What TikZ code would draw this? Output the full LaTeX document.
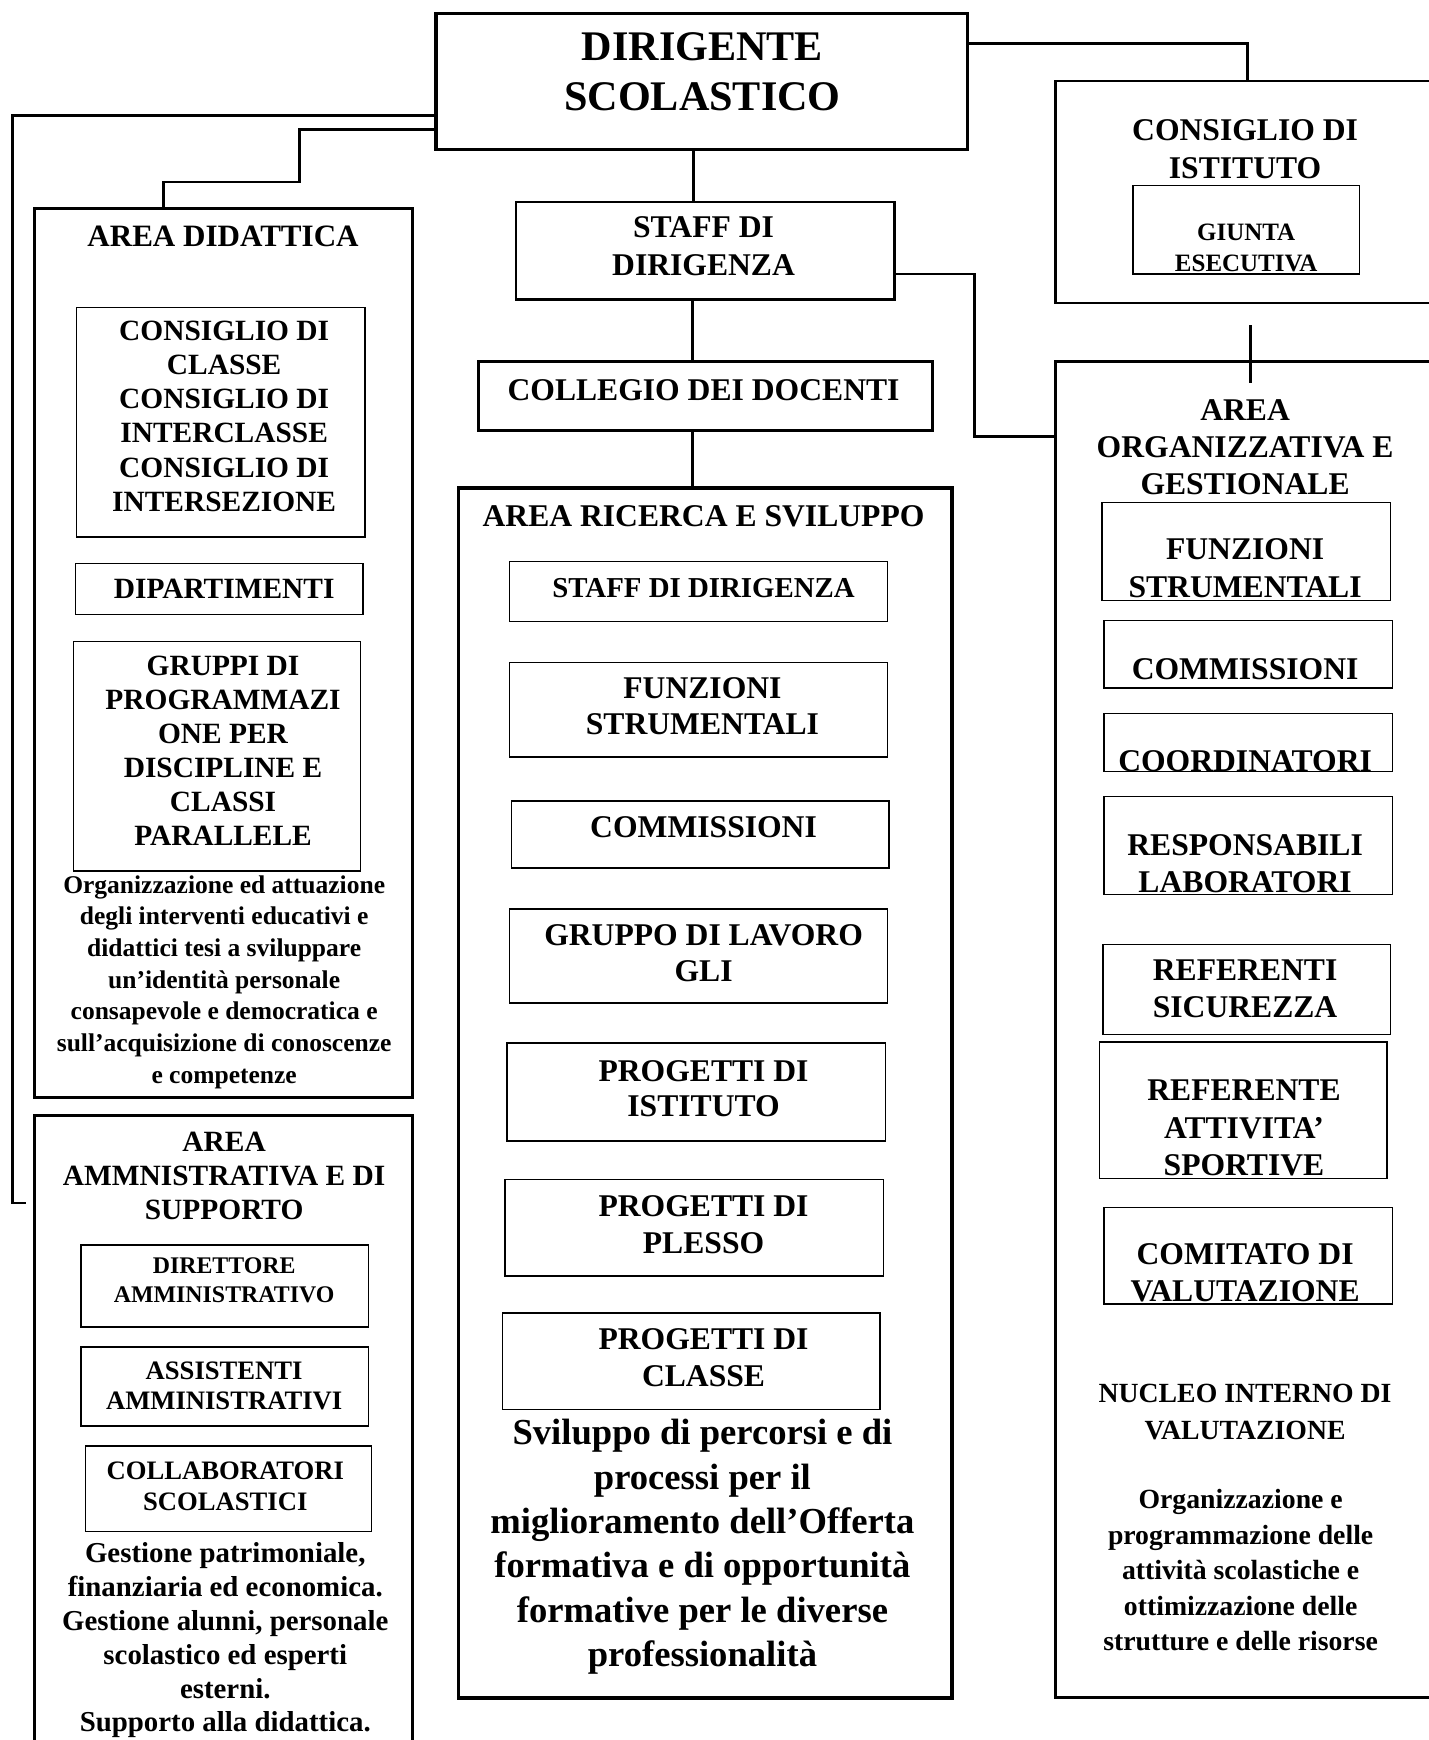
\documentclass[tikz,border=0pt]{standalone}
\usepackage{fontspec}
\setmainfont{Liberation Serif}
\usepackage{tikz}
\usetikzlibrary{positioning}
\tikzset{x=1pt,y=-1pt}
\tikzset{box/.style={draw,line width=2.6pt,inner sep=0pt,outer sep=0pt,anchor=north west}}
\tikzset{sub/.style={box,line width=1.3pt}}
\tikzset{lbl/.style={align=center,inner sep=0pt}}
\tikzset{conn/.style={line width=2.5pt}}
\newcommand{\fs}[2]{\fontsize{#1}{#2}\selectfont\bfseries}

\begin{document}
\begin{tikzpicture}
                \useasboundingbox (0,0) rectangle (1287,1568);
                % top row
                \node[box,line width=3pt,minimum width=479pt,minimum height=123pt] (ds) at (393,12) {};
                \node[lbl,font=\fs{38}{45}] (ds1) at (633,64.5) {DIRIGENTE\\SCOLASTICO};
                \node[box,minimum width=346pt,minimum height=200pt] (ci) at (951,73) {};
                \node[lbl,font=\fs{28.5}{35}] (ci1) at (1122,134.5) {CONSIGLIO DI\\ISTITUTO};
                \node[sub,minimum width=204pt,minimum height=80pt] (ge) at (1021,167) {};
                \node[lbl,font=\fs{22.5}{28}] (ge1) at (1123,223) {GIUNTA\\ESECUTIVA};
                % centre column
                \node[box,minimum width=341pt,minimum height=88pt] (sd) at (465,182) {};
                \node[lbl,font=\fs{28.5}{34}] (sd1) at (634,222) {STAFF DI\\DIRIGENZA};
                \node[box,minimum width=409pt,minimum height=62pt] (cd) at (431,326) {};
                \node[lbl,font=\fs{28.5}{33}] (cd1) at (634,352) {COLLEGIO DEI DOCENTI};
                \node[box,line width=3.2pt,minimum width=445pt,minimum height=1090pt] (ar) at (413,440) {};
                \node[lbl,font=\fs{28.5}{33}] (ar0) at (634,465) {AREA RICERCA E SVILUPPO};
                \node[sub,minimum width=341pt,minimum height=54pt] (s1) at (459,506) {};
                \node[lbl,font=\fs{26}{31}] (s1t) at (634,530) {STAFF DI DIRIGENZA};
                \node[sub,minimum width=341pt,minimum height=85pt] (s2) at (459,597) {};
                \node[lbl,font=\fs{28.5}{33}] (s2t) at (633,636.5) {FUNZIONI\\STRUMENTALI};
                \node[sub,minimum width=340pt,minimum height=60pt] (s3) at (461,722) {};
                \node[lbl,font=\fs{28.5}{33}] (s3t) at (634,745) {COMMISSIONI};
                \node[sub,minimum width=341pt,minimum height=85pt] (s4) at (459,819) {};
                \node[lbl,font=\fs{28.5}{32}] (s4t) at (634,859) {GRUPPO DI LAVORO\\GLI};
                \node[sub,minimum width=341pt,minimum height=88pt] (s5) at (457,940) {};
                \node[lbl,font=\fs{28.5}{32}] (s5t) at (634,981) {PROGETTI DI\\ISTITUTO};
                \node[sub,minimum width=341pt,minimum height=87pt] (s6) at (455,1063) {};
                \node[lbl,font=\fs{28.5}{33}] (s6t) at (634,1103.5) {PROGETTI DI\\PLESSO};
                \node[sub,minimum width=340pt,minimum height=87pt] (s7) at (453,1183) {};
                \node[lbl,font=\fs{28.5}{33}] (s7t) at (634,1223.5) {PROGETTI DI\\CLASSE};
                \node[lbl,font=\fs{33}{40}] (ar1) at (633,1394) {Sviluppo di percorsi e di\\processi per il\\miglioramento dell'Offerta\\formativa e di opportunità\\formative per le diverse\\professionalità};
                % left column
                \node[box,minimum width=341pt,minimum height=801pt] (ad) at (31,188) {};
                \node[lbl,font=\fs{28}{33}] (ad0) at (201,213) {AREA DIDATTICA};
                \node[sub,minimum width=260pt,minimum height=207pt] (d1) at (69,277) {};
                \node[lbl,font=\fs{26.5}{30.8}] (d1t) at (202,375) {CONSIGLIO DI\\CLASSE\\CONSIGLIO DI\\INTERCLASSE\\CONSIGLIO DI\\INTERSEZIONE};
                \node[sub,minimum width=259pt,minimum height=46pt] (d2) at (68,508) {};
                \node[lbl,font=\fs{26.5}{30.8}] (d2t) at (202,531) {DIPARTIMENTI};
                \node[sub,minimum width=259pt,minimum height=207pt] (d3) at (66,578) {};
                \node[lbl,font=\fs{26.5}{30.6}] (d3t) at (201,676.5) {GRUPPI DI\\PROGRAMMAZI\\ONE PER\\DISCIPLINE E\\CLASSI\\PARALLELE};
                \node[lbl,font=\fs{23}{28.5}] (ad1) at (202,885) {Organizzazione ed attuazione\\degli interventi educativi e\\didattici tesi a sviluppare\\un'identità personale\\consapevole e democratica e\\sull'acquisizione di conoscenze\\e competenze};
                \node[box,minimum width=341pt,minimum height=620pt] (aa) at (31,1005) {};
                \node[lbl,font=\fs{26.5}{30.5}] (aa0) at (202,1059.5) {AREA\\AMMNISTRATIVA E DI\\SUPPORTO};
                \node[sub,minimum width=259pt,minimum height=74pt] (a1) at (73,1122) {};
                \node[lbl,font=\fs{21.5}{26}] (a1t) at (202,1154) {DIRETTORE\\AMMINISTRATIVO};
                \node[sub,minimum width=259pt,minimum height=71pt] (a2) at (73,1214) {};
                \node[lbl,font=\fs{24}{27}] (a2t) at (202,1248.5) {ASSISTENTI\\AMMINISTRATIVI};
                \node[sub,minimum width=258pt,minimum height=77pt] (a3) at (77,1303) {};
                \node[lbl,font=\fs{24}{28}] (a3t) at (203,1339) {COLLABORATORI\\SCOLASTICI};
                \node[lbl,font=\fs{26}{30.6}] (aa1) at (203,1478) {Gestione patrimoniale,\\finanziaria ed economica.\\Gestione alunni, personale\\scolastico ed esperti\\esterni.\\Supporto alla didattica.};
                % right column
                \node[box,minimum width=346pt,minimum height=1204pt] (ao) at (951,326) {};
                \node[lbl,font=\fs{28.5}{33}] (ao0) at (1122,403) {AREA\\ORGANIZZATIVA E\\GESTIONALE};
                \node[sub,minimum width=260pt,minimum height=88pt] (r1) at (993,453) {};
                \node[lbl,font=\fs{28.5}{34}] (r1t) at (1122,512) {FUNZIONI\\STRUMENTALI};
                \node[sub,minimum width=260pt,minimum height=61pt] (r2) at (995,559) {};
                \node[lbl,font=\fs{28.5}{33}] (r2t) at (1122,603) {COMMISSIONI};
                \node[sub,minimum width=260pt,minimum height=52pt] (r3) at (995,643) {};
                \node[lbl,font=\fs{28.5}{33}] (r3t) at (1122,686) {COORDINATORI};
                \node[sub,minimum width=260pt,minimum height=88pt] (r4) at (995,718) {};
                \node[lbl,font=\fs{28.5}{33}] (r4t) at (1122,778.5) {RESPONSABILI\\LABORATORI};
                \node[sub,minimum width=259pt,minimum height=81pt] (r5) at (994,851) {};
                \node[lbl,font=\fs{28.5}{34}] (r5t) at (1122,891) {REFERENTI\\SICUREZZA};
                \node[sub,minimum width=259pt,minimum height=123pt] (r6) at (991,939) {};
                \node[lbl,font=\fs{28.5}{33.5}] (r6t) at (1121,1016.5) {REFERENTE\\ATTIVITA'\\SPORTIVE};
                \node[sub,minimum width=260pt,minimum height=87pt] (r7) at (995,1088) {};
                \node[lbl,font=\fs{28.5}{34}] (r7t) at (1122,1147) {COMITATO DI\\VALUTAZIONE};
                \node[lbl,font=\fs{25}{33}] (ao1) at (1122,1272.5) {NUCLEO INTERNO DI\\VALUTAZIONE};
                \node[lbl,font=\fs{25}{32}] (ao2) at (1118,1415) {Organizzazione e\\programmazione delle\\attività scolastiche e\\ottimizzazione delle\\strutture e delle risorse};
                % connectors
                \draw[conn] ([yshift=-27pt]ds.north east) -| (ci.north);
                \draw[conn] ([xshift=-7.5pt]ds.south) -- ([xshift=-10.5pt]sd.north);
                \draw[conn] ([xshift=-11.5pt]sd.south) -- ([xshift=-11.5pt]cd.north);
                \draw[conn] ([xshift=-11.5pt]cd.south) -- ([xshift=-11.5pt]ar.north);
                \draw[conn] ([yshift=-21pt]sd.east) -| ([xshift=-73pt,yshift=-67pt]ao.north west) -- ([yshift=-67pt]ao.north west);
                \draw[conn] ([xshift=3pt,yshift=-20pt]ci.south) -- ([xshift=3pt,yshift=-19pt]ao.north);
                \draw[conn] ([yshift=-30.5pt]ds.west) -| ([xshift=-20pt,yshift=-79pt]aa.north west) -- ([xshift=-8pt,yshift=-79pt]aa.north west);
                \draw[conn] ([yshift=-43.5pt]ds.west) -| ([xshift=68.5pt,yshift=24pt]ad.north) -| ([xshift=-54.5pt]ad.north);
            \end{tikzpicture}
\end{document}
